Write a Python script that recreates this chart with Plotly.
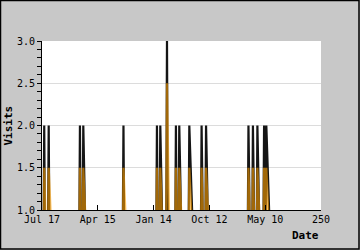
import plotly.graph_objects as go

N = 251
spike_idx = [2, 6, 34, 37, 73, 103, 106, 112, 120, 123, 132, 143, 147, 185, 189, 193, 199, 201]
visits_at = [2, 2, 2, 2, 2, 2, 2, 3, 2, 2, 2, 2, 2, 2, 2, 2, 2, 2]
uniq_at = [1.5, 1.5, 1.5, 1.5, 1.5, 1.5, 1.5, 2.5, 1.5, 1.5, 1.5, 1.5, 1.5, 1.5, 1.5, 1.5, 1.5, 1.5]
tick_vals = [0, 50, 100, 150, 200, 250]
tick_text = ["Jul 17", "Apr 15", "Jan 14", "Oct 12", "May 10", "250"]

visits = [0] * N
uniq = [0] * N
for i, v, u in zip(spike_idx, visits_at, uniq_at):
    visits[i] = v
    uniq[i] = u
xs = list(range(N))

fig = go.Figure()
fig.add_trace(go.Scatter(x=xs, y=visits, mode="lines",
                         line=dict(color="#151515", width=2.2), hoverinfo="skip"))
fig.add_trace(go.Scatter(x=xs, y=uniq, mode="lines",
                         line=dict(color="rgba(255,160,0,0.6)", width=2.2), hoverinfo="skip"))

W, H = 360, 250
L, R, T, B = 42, 39, 41, 40
pw, ph = W - L - R, H - T - B

fig.update_layout(
    width=W, height=H,
    margin=dict(l=L, r=R, t=T, b=B, pad=0),
    paper_bgcolor="#c8c8c8", plot_bgcolor="white",
    showlegend=False,
    font=dict(family="DejaVu Sans Mono", size=10, color="black"),
    xaxis=dict(range=[0, 250], tickvals=tick_vals, ticktext=tick_text,
               ticks="inside", ticklen=5, tickcolor="black", showgrid=False,
               showline=True, linecolor="black", linewidth=1, zeroline=False,
               tickfont=dict(size=10)),
    yaxis=dict(range=[1, 3], tickvals=[1, 1.5, 2, 2.5, 3],
               ticktext=["1.0", "1.5", "2.0", "2.5", "3.0"],
               ticks="outside", ticklen=4, tickcolor="black",
               minor=dict(dtick=0.1, ticks="outside", ticklen=4, tickcolor="black", showgrid=False),
               showgrid=True, gridcolor="#dcdcdc", gridwidth=1,
               showline=True, linecolor="black", linewidth=1, zeroline=False,
               tickfont=dict(size=10)),
    annotations=[
        dict(text="<b>Date</b>", x=1, xref="paper", xanchor="right",
             y=(210 - 236) / ph, yref="paper", yanchor="middle", showarrow=False,
             font=dict(size=11, family="DejaVu Sans Mono")),
        dict(text="<b>Visits</b>", x=(8 - L) / pw, xref="paper", xanchor="center",
             y=0.5, yref="paper", yanchor="middle", textangle=-90, showarrow=False,
             font=dict(size=11, family="DejaVu Sans Mono")),
    ],
    shapes=[dict(type="rect", xref="paper", yref="paper",
                 x0=(0.5 - L) / pw, x1=(359 - L) / pw,
                 y0=(T + ph - 249) / ph, y1=(T + ph - 0.5) / ph,
                 line=dict(color="black", width=1.5), layer="above")],
)

fig.write_html("out.html")
